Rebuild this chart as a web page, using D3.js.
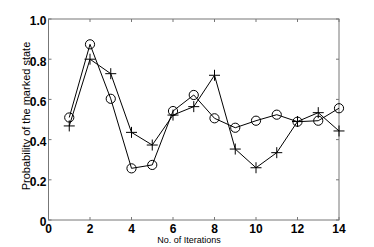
<!DOCTYPE html>
<html><head><meta charset="utf-8">
<script src="https://cdn.jsdelivr.net/npm/d3@7"></script>
<style>body{margin:0;background:#fff;}svg{display:block;}</style>
</head><body>
<script>
const iterations = [1,2,3,4,5,6,7,8,9,10,11,12,13,14];
const circleSeries = [0.51,0.874,0.603,0.257,0.274,0.542,0.622,0.506,0.459,0.494,0.524,0.489,0.494,0.556];
const plusSeries = [0.468,0.80,0.728,0.436,0.373,0.522,0.564,0.72,0.353,0.26,0.335,0.49,0.534,0.443];
const xTicks = [0,2,4,6,8,10,12,14];
const yTicks = [0,0.2,0.4,0.6,0.8,1.0];
const yTickLabels = ["0","0.2","0.4","0.6","0.8","1.0"];

const W=374,H=247, L=48.5, R=339, T=19, B=220;
const svg=d3.select("body").append("svg").attr("width",W).attr("height",H);
const x=d3.scaleLinear().domain([0,14]).range([L,R]);
const y=d3.scaleLinear().domain([0,1]).range([B,T]);
const axisCol="#777";

// frame
svg.append("rect").attr("x",L).attr("y",T).attr("width",R-L).attr("height",B-T)
  .attr("fill","none").attr("stroke",axisCol).attr("stroke-width",1);

// ticks inside
const tl=3;
xTicks.forEach(t=>{
  svg.append("line").attr("x1",x(t)).attr("x2",x(t)).attr("y1",B).attr("y2",B-tl).attr("stroke",axisCol);
  svg.append("line").attr("x1",x(t)).attr("x2",x(t)).attr("y1",T).attr("y2",T+tl).attr("stroke",axisCol);
  svg.append("text").attr("x",x(t)).attr("y",B+12.6).attr("text-anchor","middle")
    .attr("font-family","Liberation Sans, Arial, sans-serif").attr("font-weight","bold").attr("font-size",12)
    .text(t);
});
yTicks.forEach((t,i)=>{
  svg.append("line").attr("x1",L).attr("x2",L+tl).attr("y1",y(t)).attr("y2",y(t)).attr("stroke",axisCol);
  svg.append("line").attr("x1",R).attr("x2",R-tl).attr("y1",y(t)).attr("y2",y(t)).attr("stroke",axisCol);
  svg.append("text").attr("x",L-2).attr("y",y(t)+6.3).attr("text-anchor","end")
    .attr("font-family","Liberation Sans, Arial, sans-serif").attr("font-weight","bold").attr("font-size",12)
    .text(yTickLabels[i]);
});

// axis titles
svg.append("text").attr("x",189).attr("y",242.5).attr("text-anchor","middle")
  .attr("font-family","Liberation Sans, Arial, sans-serif").attr("font-size",9).text("No. of Iterations");
svg.append("text").attr("transform",`translate(30,116) rotate(-90)`).attr("text-anchor","middle")
  .attr("font-family","Liberation Sans, Arial, sans-serif").attr("font-size",11).text("Probability of the marked state");

const line=d3.line().x((d,i)=>x(iterations[i])).y(d=>y(d));
const g=svg.append("g");
g.append("path").datum(circleSeries).attr("d",line).attr("fill","none").attr("stroke","#000").attr("stroke-width",1);
g.append("path").datum(plusSeries).attr("d",line).attr("fill","none").attr("stroke","#000").attr("stroke-width",1);

g.selectAll("circle.m").data(circleSeries).enter().append("circle")
  .attr("cx",(d,i)=>x(iterations[i])).attr("cy",d=>y(d)).attr("r",4.6)
  .attr("fill","none").attr("stroke","#000").attr("stroke-width",1);

const s=5.5;
g.selectAll("path.p").data(plusSeries).enter().append("path")
  .attr("d",(d,i)=>{const cx=x(iterations[i]),cy=y(d);return `M${cx-s},${cy}H${cx+s}M${cx},${cy-s}V${cy+s}`;})
  .attr("stroke","#000").attr("stroke-width",1).attr("fill","none");
</script>
</body></html>
